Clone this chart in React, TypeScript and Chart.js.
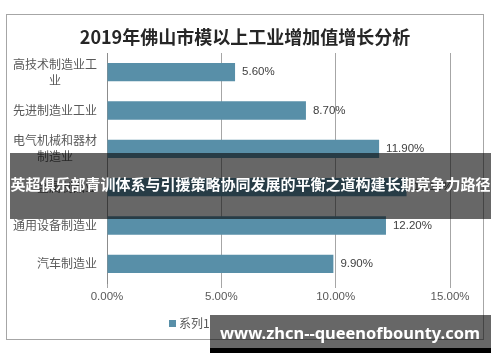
import React, { useEffect, useRef } from "react";
import { Chart, registerables } from "chart.js";

Chart.register(...registerables);

const TITLE = "2019年佛山市模以上工业增加值增长分析";
const CATEGORIES: string[][] = [
  ["高技术制造业工", "业"],
  ["先进制造业工业"],
  ["电气机械和器材", "制造业"],
  ["金属制品业"],
  ["通用设备制造业"],
  ["汽车制造业"],
];
const VALUES = [5.6, 8.7, 11.9, 13.1, 12.2, 9.9];
const SERIES_NAME = "系列1";
const X_MIN = 0;
const X_MAX = 15;
const X_STEP = 5;
const BANNER_TEXT = "英超俱乐部青训体系与引援策略协同发展的平衡之道构建长期竞争力路径";
const WATERMARK_TEXT = "www.zhcn--queenofbounty.com";

const BAR_COLOR = "#588FA8";
const CJK = '"Noto Sans CJK SC", "Noto Sans", sans-serif';
const LATIN = '"Liberation Sans", Arial, sans-serif';

const overlayPlugin = {
  id: "overlayPlugin",
  afterDraw(chart: any) {
    const ctx: CanvasRenderingContext2D = chart.ctx;
    const yScale = chart.scales.y;
    ctx.save();

    // frame
    ctx.strokeStyle = "#a6a6a6";
    ctx.lineWidth = 1;
    ctx.strokeRect(6.5, 14.5, 477, 325);

    // title
    ctx.fillStyle = "#262626";
    ctx.font = `bold 18px ${CJK}`;
    ctx.textAlign = "center";
    ctx.textBaseline = "middle";
    ctx.fillText(TITLE, 245, 37.5);

    // category labels
    ctx.font = `12px ${CJK}`;
    ctx.fillStyle = "#595959";
    const lineH = 16;
    CATEGORIES.forEach((lines, i) => {
      const yc = yScale.getPixelForTick(i);
      const widest = Math.max(...lines.map((l) => ctx.measureText(l).width));
      const cx = 97 - widest / 2;
      const y0 = yc - ((lines.length - 1) * lineH) / 2;
      lines.forEach((l, j) => {
        ctx.textAlign = "center";
        ctx.fillText(l, cx, y0 + j * lineH);
      });
    });

    // data labels
    const meta = chart.getDatasetMeta(0);
    ctx.font = `11.5px ${LATIN}`;
    ctx.fillStyle = "#404040";
    ctx.textAlign = "left";
    meta.data.forEach((bar: any, i: number) => {
      ctx.fillText(VALUES[i].toFixed(2) + "%", bar.x + 7, bar.y);
    });

    // legend
    ctx.fillStyle = BAR_COLOR;
    ctx.fillRect(169, 320, 7, 7);
    ctx.fillStyle = "#595959";
    ctx.font = `12px ${CJK}`;
    ctx.fillText(chart.data.datasets[0].label, 179, 323.5);

    // banner overlay
    ctx.fillStyle = "rgba(10,10,10,0.62)";
    ctx.fillRect(10, 153, 481, 66);
    ctx.fillStyle = "#ffffff";
    ctx.font = `bold 15px ${CJK}`;
    ctx.textAlign = "center";
    ctx.fillText(BANNER_TEXT, 250.5, 184);

    // watermark
    ctx.fillStyle = "rgba(10,10,10,0.62)";
    ctx.fillRect(210, 315, 281, 33);
    ctx.fillStyle = "#000000";
    ctx.fillRect(210, 348, 281, 5);
    ctx.font = `bold 18px "Noto Sans", sans-serif`;
    const w = ctx.measureText(WATERMARK_TEXT).width;
    const size = (18 * 260) / w;
    ctx.font = `bold ${size}px "Noto Sans", sans-serif`;
    ctx.fillStyle = "#ffffff";
    ctx.textAlign = "left";
    ctx.fillText(WATERMARK_TEXT, 220, 334);

    ctx.restore();
  },
};

export default function App() {
  const ref = useRef<HTMLCanvasElement | null>(null);
  useEffect(() => {
    if (!ref.current) return;
    const chart = new Chart(ref.current, {
      type: "bar",
      data: {
        labels: CATEGORIES.map((c) => c.join("")),
        datasets: [
          {
            label: SERIES_NAME,
            data: VALUES,
            backgroundColor: BAR_COLOR,
            barPercentage: 0.48,
            categoryPercentage: 1,
          },
        ],
      },
      options: {
        indexAxis: "y",
        responsive: false,
        animation: false,
        layout: { padding: { top: 53, right: 50, bottom: 49, left: 0 } },
        plugins: {
          legend: { display: false },
          title: { display: false },
          tooltip: { enabled: false },
        },
        scales: {
          x: {
            min: X_MIN,
            max: X_MAX,
            ticks: {
              stepSize: X_STEP,
              callback: (v: any) => Number(v).toFixed(2) + "%",
              font: { size: 11.5, family: LATIN },
              color: "#595959",
              padding: 2,
            },
            grid: { color: "#a6a6a6", tickLength: 5 },
            border: { display: false },
            afterFit: (s: any) => {
              s.height = 30;
            },
          },
          y: {
            ticks: { display: false },
            grid: { display: false },
            border: { display: true, color: "#8c8c8c" },
            afterFit: (s: any) => {
              s.width = 107;
            },
          },
        },
      },
      plugins: [overlayPlugin],
    } as any);
    return () => chart.destroy();
  }, []);
  return (
    <div style={{ position: "absolute", left: 0, top: 0, width: 500, height: 362, background: "#fff" }}>
      <canvas ref={ref} width={500} height={362} style={{ display: "block" }} />
    </div>
  );
}
